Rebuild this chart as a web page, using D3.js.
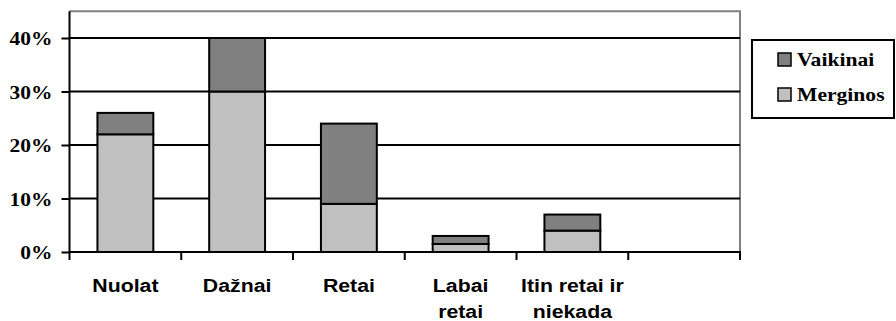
<!DOCTYPE html>
<html>
<head>
<meta charset="utf-8">
<script src="https://cdn.jsdelivr.net/npm/d3@7"></script>
<style>
html,body{margin:0;padding:0;background:#fff;}
svg{display:block;}
</style>
</head>
<body>
<svg id="chart" width="896" height="321"></svg>
<script>
const categories = ["Nuolat", "Dažnai", "Retai", "Labai retai", "Itin retai ir niekada", ""];
const categoryLines = [["Nuolat"], ["Dažnai"], ["Retai"], ["Labai", "retai"], ["Itin retai ir", "niekada"], [""]];
const merginos = [22, 30, 9, 1.5, 4];
const vaikinai = [4, 10, 15, 1.5, 3];
const yTicks = [0, 10, 20, 30, 40];
const seriesNames = ["Vaikinai", "Merginos"];
const seriesColors = ["#808080", "#C0C0C0"];

(function () {
const SERIF = '"Liberation Serif"';
const SANS = '"Liberation Sans"';
const svg = d3.select("#chart");
const pLeft = 69.5, pRight = 740, pTop = 11.25, pBottom = 252;

const x = d3.scaleBand().domain(categories.map((c, i) => i)).range([pLeft, pRight]).paddingInner(0).paddingOuter(0);
const y = d3.scaleLinear().domain([0, 45]).range([pBottom, pTop]);

// plot frame (top & right gray)
svg.append("path")
  .attr("d", `M${pLeft},${y(45)}H${pRight}V${pBottom}`)
  .attr("fill", "none").attr("stroke", "#808080").attr("stroke-width", 2);

// gridlines
svg.append("g").selectAll("line").data(yTicks.filter(d => d > 0)).join("line")
  .attr("x1", pLeft).attr("x2", pRight)
  .attr("y1", d => y(d)).attr("y2", d => y(d))
  .attr("stroke", "#000").attr("stroke-width", 2);

// stacked bars
const rows = merginos.map((m, i) => ({i, m, v: vaikinai[i]}));
const bw = x.bandwidth() / 2;
const g = svg.append("g");
rows.forEach(r => {
  const x0 = x(r.i) + (x.bandwidth() - bw) / 2;
  g.append("rect").attr("x", x0).attr("width", bw)
    .attr("y", y(r.m)).attr("height", y(0) - y(r.m))
    .attr("fill", seriesColors[1]).attr("stroke", "#000").attr("stroke-width", 2);
  g.append("rect").attr("x", x0).attr("width", bw)
    .attr("y", y(r.m + r.v)).attr("height", y(r.m) - y(r.m + r.v))
    .attr("fill", seriesColors[0]).attr("stroke", "#000").attr("stroke-width", 2);
});

// y axis
const yAxis = svg.append("g").attr("transform", `translate(${pLeft},0)`)
  .call(d3.axisLeft(y).tickValues(yTicks).tickSize(8).tickFormat(d => d + "%"));
yAxis.select(".domain").attr("d", `M0,${y(45)}V${pBottom}`).attr("stroke", "#000").attr("stroke-width", 2);
yAxis.selectAll(".tick line").attr("stroke", "#000").attr("stroke-width", 2);
yAxis.selectAll(".tick text")
  .attr("x", null).attr("dy", null)
  .attr("transform", "translate(-17,6.5) scale(1.13,1)")
  .style("font-family", SERIF).style("font-weight", "700")
  .style("font-size", "19px").attr("fill", "#000");

// x axis
const xTickPos = d3.range(categories.length + 1).map(i => i < categories.length ? x(i) : pRight);
const xAxisG = svg.append("g");
xAxisG.append("line").attr("x1", pLeft - 1).attr("x2", pRight + 1).attr("y1", pBottom).attr("y2", pBottom)
  .attr("stroke", "#000").attr("stroke-width", 2);
xAxisG.selectAll("line.tk").data(xTickPos).join("line").attr("class", "tk")
  .attr("x1", d => d).attr("x2", d => d).attr("y1", pBottom).attr("y2", pBottom + 8)
  .attr("stroke", "#000").attr("stroke-width", 2);

const xl = svg.append("g");
categoryLines.forEach((lines, i) => {
  const t = xl.append("text")
    .attr("transform", `translate(${x(i) + x.bandwidth() / 2},292) scale(1.12,1)`)
    .attr("text-anchor", "middle")
    .style("font-family", SANS).style("font-weight", "700")
    .style("font-size", "19px").attr("fill", "#000");
  lines.forEach((l, k) => t.append("tspan").attr("x", 0).attr("dy", k === 0 ? 0 : 26).text(l));
});

// legend
const lg = svg.append("g");
lg.append("rect").attr("x", 752).attr("y", 40).attr("width", 142).attr("height", 78)
  .attr("fill", "#fff").attr("stroke", "#000").attr("stroke-width", 2);
seriesNames.forEach((n, k) => {
  const yy = 53 + k * 35;
  lg.append("rect").attr("x", 778).attr("y", yy).attr("width", 13).attr("height", 13)
    .attr("fill", seriesColors[k]).attr("stroke", "#000").attr("stroke-width", 1.5);
  lg.append("text").attr("transform", `translate(797,${yy + 13}) scale(1.2,1)`)
    .style("font-family", SERIF).style("font-weight", "700")
    .style("font-size", "18px").attr("fill", "#000").text(n);
});
})();
</script>
</body>
</html>
